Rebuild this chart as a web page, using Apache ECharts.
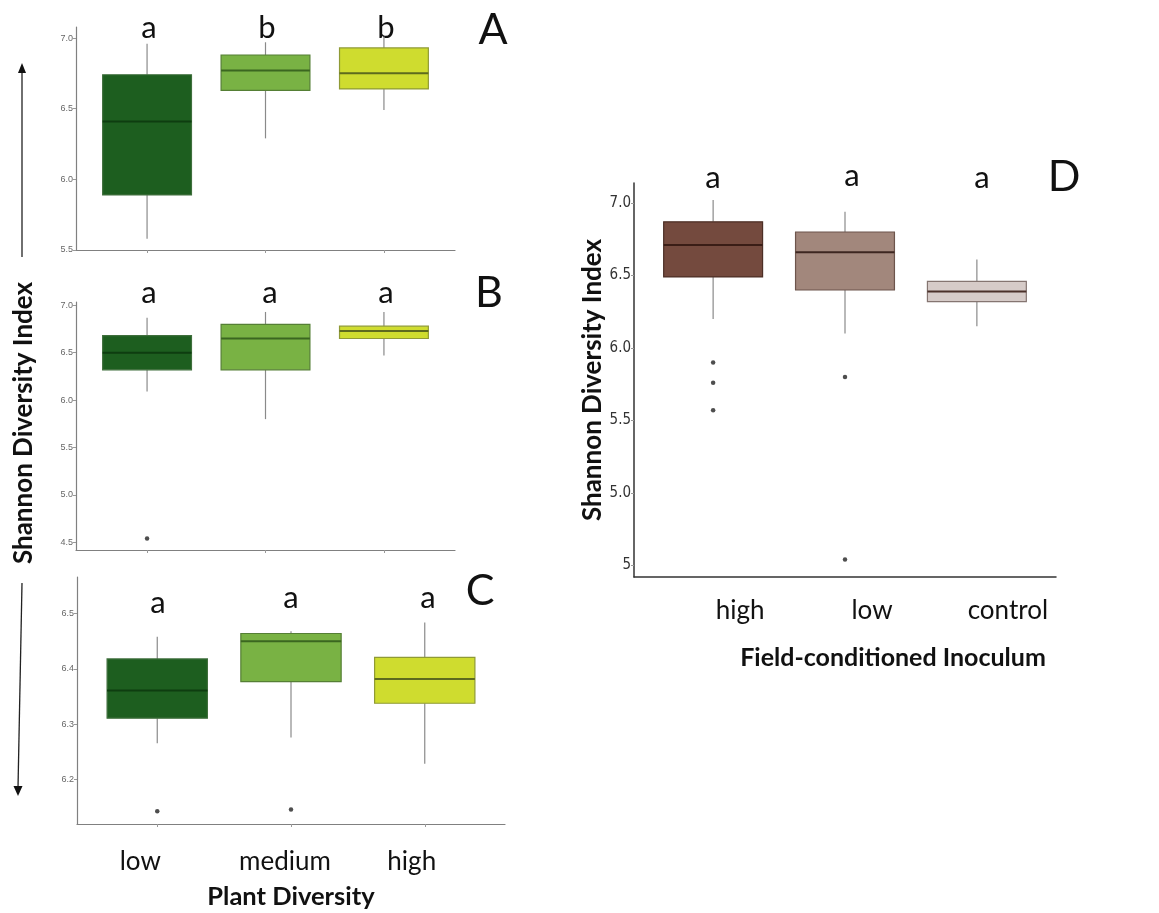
<!DOCTYPE html>
<html><head><meta charset="utf-8">
<script src="https://cdn.jsdelivr.net/npm/echarts@6/dist/echarts.min.js"></script>
<style>html,body{margin:0;padding:0;background:#fff}#c{width:1159px;height:913px}</style>
</head><body><div id="c"></div>
<script>
// ---------- DATA ----------
const plantCategories = ['low', 'medium', 'high'];
const inoculumCategories = ['high', 'low', 'control'];
// box stats: [min, Q1, median, Q3, max]
const panelA = [[5.58, 5.89, 6.41, 6.74, 6.96], [6.29, 6.63, 6.77, 6.88, 6.97], [6.49, 6.64, 6.75, 6.93, 7.01]];
const panelB = [[6.09, 6.32, 6.50, 6.68, 6.87], [5.80, 6.32, 6.65, 6.80, 6.93], [6.47, 6.65, 6.73, 6.78, 6.93]];
const panelC = [[6.266, 6.311, 6.361, 6.418, 6.458], [6.276, 6.377, 6.450, 6.464, 6.468], [6.229, 6.338, 6.382, 6.421, 6.484]];
const panelD = [[6.20, 6.49, 6.71, 6.87, 7.02], [6.10, 6.40, 6.66, 6.80, 6.94], [6.15, 6.32, 6.39, 6.46, 6.61]];
// outliers: [category position (1-based), value]
const outliersA = [];
const outliersB = [[1, 4.54]];
const outliersC = [[1, 6.143], [2, 6.146]];
const outliersD = [[1, 5.90], [1, 5.76], [1, 5.57], [2, 5.80], [2, 4.54]];
// significance letters
const lettersA = ['a', 'b', 'b'];
const lettersB = ['a', 'a', 'a'];
const lettersC = ['a', 'a', 'a'];
const lettersD = ['a', 'a', 'a'];
const panelNames = ['A', 'B', 'C', 'D'];
// tick values / labels
const ticksA = [5.5, 6.0, 6.5, 7.0];
const ticksB = [4.5, 5.0, 5.5, 6.0, 6.5, 7.0];
const ticksC = [6.2, 6.3, 6.4, 6.5];
const ticksD = [4.5, 5.0, 5.5, 6.0, 6.5, 7.0];
const tickLabelsD = ['5', '5.0', '5.5', '6.0', '6.5', '7.0'];
const yTitle = 'Shannon Diversity Index';
const xTitlePlant = 'Plant Diversity';
const xTitleInoculum = 'Field-conditioned Inoculum';

// ---------- STYLES ----------
const greenStyles = [
  { fill: '#1d5e1f', stroke: '#3f6f3c', median: '#0e3d10' },
  { fill: '#79b244', stroke: '#557f35', median: '#3b6620' },
  { fill: '#cfdc2f', stroke: '#8f9a35', median: '#5d6a1e' }
];
const brownStyles = [
  { fill: '#744a3e', stroke: '#4c2f26', median: '#3a1d16' },
  { fill: '#a2877c', stroke: '#6d554c', median: '#3d2620' },
  { fill: '#d6cbc8', stroke: '#857571', median: '#4a3029' }
];
const whiskerColor = '#8a8a8a';
const letterFont = 'Lato, "Open Sans", sans-serif';
const smallTickFont = '"Liberation Sans", Arial, sans-serif';
const narrowFont = '"Liberation Sans Narrow", "DejaVu Sans Condensed", sans-serif';

const grids = [
  { left: 76, top: 27, width: 379, height: 223 },
  { left: 76, top: 302, width: 379, height: 248 },
  { left: 77, top: 577, width: 428, height: 247 },
  { left: 634, top: 183, width: 422, height: 394 }
];
const yRanges = [[5.5, 7.078], [4.42, 7.035], [6.12, 6.566], [4.42, 7.138]];

function makeRender(styles, dw) {
  return function (params, api) {
    const x = api.value(0);
    const pMin = api.coord([x, api.value(1)]);
    const pQ1 = api.coord([x, api.value(2)]);
    const pMed = api.coord([x, api.value(3)]);
    const pQ3 = api.coord([x, api.value(4)]);
    const pMax = api.coord([x, api.value(5)]);
    const bw = api.size([dw, 0])[0];
    const st = styles[params.dataIndex];
    return {
      type: 'group',
      children: [
        { type: 'line', shape: { x1: pMax[0], y1: pMax[1], x2: pQ3[0], y2: pQ3[1] }, style: { stroke: whiskerColor, lineWidth: 1.2 } },
        { type: 'line', shape: { x1: pQ1[0], y1: pQ1[1], x2: pMin[0], y2: pMin[1] }, style: { stroke: whiskerColor, lineWidth: 1.2 } },
        { type: 'rect', shape: { x: pMed[0] - bw / 2, y: pQ3[1], width: bw, height: pQ1[1] - pQ3[1] }, style: { fill: st.fill, stroke: st.stroke, lineWidth: 1.2 } },
        { type: 'line', shape: { x1: pMed[0] - bw / 2, y1: pMed[1], x2: pMed[0] + bw / 2, y2: pMed[1] }, style: { stroke: st.median, lineWidth: 2 } }
      ]
    };
  };
}

const boxData = [panelA, panelB, panelC, panelD].map(p => p.map((s, i) => [i + 1].concat(s)));
const outData = [outliersA, outliersB, outliersC, outliersD];
const tickSets = [ticksA, ticksB, ticksC, ticksD];

const xAxes = grids.map((g, i) => {
  const isD = i === 3;
  const showLabels = i >= 2;
  const cats = isD ? inoculumCategories : plantCategories;
  // manual label offsets to match the figure (px, + = right)
  const offs = isD ? [27, 27, 31] : [-17, -6, -13];
  const rich = {};
  offs.forEach((o, k) => {
    rich['p' + k] = {
      fontFamily: letterFont, fontSize: 26, color: '#111',
      padding: o >= 0 ? [0, 0, 0, 2 * o] : [0, -2 * o, 0, 0]
    };
  });
  return {
    type: 'value', gridIndex: i, min: 0.4, max: 3.6,
    splitLine: { show: false },
    axisLine: { show: true, onZero: false, lineStyle: { color: isD ? '#333' : '#808080', width: isD ? 1.5 : 1.2 } },
    axisTick: { show: !isD, length: 3, customValues: [1, 2, 3], lineStyle: { color: '#999' } },
    axisLabel: {
      show: showLabels, customValues: [1, 2, 3], margin: isD ? 21 : 25,
      formatter: v => '{p' + (Math.round(v) - 1) + '|' + cats[Math.round(v) - 1] + '}',
      rich: rich
    },
    name: i === 2 ? xTitlePlant : (isD ? xTitleInoculum : ''),
    nameLocation: 'middle',
    nameGap: isD ? 68 : 60,
    nameTextStyle: {
      fontFamily: letterFont, fontWeight: 'bold', fontSize: isD ? 25 : 25.5, color: '#111',
      padding: isD ? [0, 0, 0, 96] : [0, 0, 0, 0]
    }
  };
});

const yAxes = grids.map((g, i) => {
  const isD = i === 3;
  return {
    type: 'value', gridIndex: i, min: yRanges[i][0], max: yRanges[i][1],
    splitLine: { show: false },
    axisLine: { show: true, onZero: false, lineStyle: { color: isD ? '#333' : '#808080', width: isD ? 1.5 : 1.2 } },
    axisTick: { show: true, length: 3, customValues: tickSets[i], lineStyle: { color: '#999' } },
    axisLabel: {
      customValues: tickSets[i], margin: 3,
      fontFamily: isD ? narrowFont : smallTickFont,
      fontSize: isD ? 15 : 9, color: isD ? '#333' : '#666',
      formatter: v => {
        if (isD) {
          const k = ticksD.findIndex(t => Math.abs(t - v) < 1e-6);
          return k >= 0 ? tickLabelsD[k] : '';
        }
        return v.toFixed(1);
      }
    },
    name: isD ? yTitle : '',
    nameLocation: 'middle',
    nameGap: 26,
    nameRotate: 90,
    nameTextStyle: { fontFamily: letterFont, fontWeight: 'bold', fontSize: 26, color: '#111' }
  };
});

const series = [];
boxData.forEach((d, i) => {
  series.push({
    type: 'custom', xAxisIndex: i, yAxisIndex: i,
    renderItem: makeRender(i === 3 ? brownStyles : greenStyles, 0.75),
    encode: { x: 0, y: [1, 2, 3, 4, 5] },
    data: d, silent: true, z: 2
  });
  series.push({
    type: 'scatter', xAxisIndex: i, yAxisIndex: i,
    data: outData[i], symbolSize: 4.5, itemStyle: { color: '#222' }, z: 3, silent: true
  });
});

// ---------- ANNOTATIONS ----------
const graphics = [];
function txt(x, y, s, size, weight) {
  graphics.push({ type: 'text', x: x, y: y, style: { text: s, font: (weight || 'normal') + ' ' + size + 'px ' + letterFont, fill: '#111', align: 'center', verticalAlign: 'middle' } });
}
const letterPos = [
  { xs: [149, 267, 386], ys: [28, 28, 28], P: [493, 30] },
  { xs: [149, 270, 386], ys: [293, 293, 293], P: [489, 293] },
  { xs: [158, 291, 428], ys: [603, 598, 598], P: [480, 591] },
  { xs: [713, 852, 982], ys: [178, 176, 178], P: [1064, 177] }
];
[lettersA, lettersB, lettersC, lettersD].forEach((ls, i) => {
  ls.forEach((l, k) => txt(letterPos[i].xs[k], letterPos[i].ys[k], l, 31));
  txt(letterPos[i].P[0], letterPos[i].P[1], panelNames[i], 43);
});
// left shared title
graphics.push({ type: 'text', x: 24, y: 423, rotation: Math.PI / 2, style: { text: yTitle, font: 'bold 26px ' + letterFont, fill: '#111', align: 'center', verticalAlign: 'middle' } });
// arrows
graphics.push({ type: 'line', shape: { x1: 22, y1: 257, x2: 22, y2: 70 }, style: { stroke: '#222', lineWidth: 1.3 } });
graphics.push({ type: 'polygon', shape: { points: [[22, 63], [18, 73], [26, 73]] }, style: { fill: '#111' } });
graphics.push({ type: 'line', shape: { x1: 22, y1: 583, x2: 18, y2: 788 }, style: { stroke: '#222', lineWidth: 1.3 } });
graphics.push({ type: 'polygon', shape: { points: [[18, 796], [13.5, 786], [22.5, 786]] }, style: { fill: '#111' } });

const chart = echarts.init(document.getElementById('c'), null, { renderer: 'canvas' });
chart.setOption({
  backgroundColor: '#fff',
  animation: false,
  grid: grids.map(g => Object.assign({ containLabel: false }, g)),
  xAxis: xAxes,
  yAxis: yAxes,
  series: series,
  graphic: graphics
});
</script></body></html>
